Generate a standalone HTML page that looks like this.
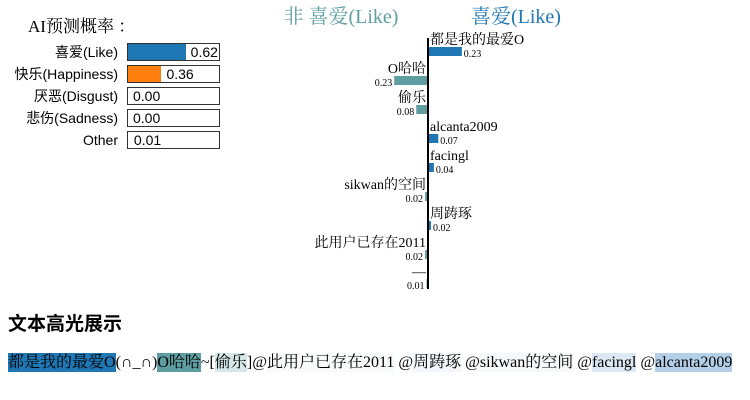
<!DOCTYPE html>
<html><head><meta charset="utf-8"><style>
body{margin:0;width:750px;height:400px;background:#fff;position:relative;overflow:hidden;font-family:"Liberation Serif","Noto Serif CJK SC",serif}
.a{position:absolute;white-space:nowrap}
.sans{font-family:"Liberation Sans","Noto Sans CJK SC",sans-serif}
.hl span{padding:1px 0}
</style></head><body>
<div class="a" style="left:28px;top:12px;font-size:17px">AI预测概率 ：</div>
<div id="probs"></div>
<svg id="chart" width="750" height="300" style="position:absolute;left:0;top:0"></svg>
<div class="a sans" style="left:8px;top:309px;font-size:19px;font-weight:bold">文本高光展示</div>
<div class="a hl" style="left:8px;top:353px;font-size:16px;line-height:20px"><span style="background:#1f77b4">都是我的最爱O</span>(∩_∩)<span style="background:#5f9ea0">O哈哈</span>~[<span style="background:#d6e7e7">偷乐</span>]@<span style="background:#f9fbfb">此用户已存在2011</span> @<span style="background:#f3f7fb">周踌琢</span> @<span style="background:#f5f9f9">sikwan的空间</span> @<span style="background:#dce9f4">facingl</span> @<span style="background:#b3d0e8">alcanta2009</span></div>
<script>
const probLabels=["喜爱(Like)","快乐(Happiness)","厌恶(Disgust)","悲伤(Sadness)","Other"];
const probValues=[0.62,0.36,0.00,0.00,0.01];
const probColors=["#1f77b4","#ff7f0e","#d62728","#2ca02c","#ffffff"];
const P=document.getElementById('probs');
probLabels.forEach((l,i)=>{
 const y=43+i*22;
 const lab=document.createElement('div');lab.className='a sans';
 
 
 lab.style.cssText=`right:${750-118}px;top:${y}px;font-size:14px;line-height:18px`;lab.textContent=l;P.appendChild(lab);
 const box=document.createElement('div');box.className='a';
 
 
 box.style.cssText=`left:127px;top:${y}px;width:91px;height:16px;border:1px solid #333`;
 const f=document.createElement('div');
 
 
 f.style.cssText=`position:absolute;left:0;top:0;height:16px;width:${probValues[i]*93}px;background:${probColors[i]}`;box.appendChild(f);
 const t=document.createElement('div');t.className='a sans';
 
 
 const w=probValues[i]*93;
 t.style.cssText=`top:0;font-size:14px;line-height:16px;`+(w>60?`right:2px`:`left:${w+5}px`);t.textContent=probValues[i].toFixed(2);box.appendChild(t);
 P.appendChild(box);
});
const words=["都是我的最爱O","O哈哈","偷乐","alcanta2009","facingl","sikwan的空间","周踌琢","此用户已存在2011","—"];
const scores=[0.23,-0.23,-0.08,0.07,0.04,-0.02,0.02,-0.02,-0.01];
const S=document.getElementById('chart'),NS='http://www.w3.org/2000/svg';
const x0=428,k=147,rowY=i=>47+i*29;
function el(n,a,txt){const e=document.createElementNS(NS,n);for(const q in a)e.setAttribute(q,a[q]);if(txt!=null)e.textContent=txt;S.appendChild(e);return e;}
let t=el('text',{x:341,y:23,'text-anchor':'middle','font-size':20,fill:'#5f9ea0'},'非 喜爱(Like)');


t=el('text',{x:516,y:23,'text-anchor':'middle','font-size':20,fill:'#1f77b4'},'喜爱(Like)');


words.forEach((w,i)=>{
 const s=scores[i],y=rowY(i),pos=s>=0,len=Math.abs(s)*k;
 const r=el('rect',{x:pos?x0:x0-len,y:y,width:len,height:9,fill:pos?'#1f77b4':'#5f9ea0'});
 
 
 const l=el('text',{x:pos?x0+2:x0-2,y:y-3,'text-anchor':pos?'start':'end','font-size':14},w);
 
 
 const v=el('text',{x:pos?x0+len+2:x0-len-2,y:y+10,'text-anchor':pos?'start':'end','font-size':10},Math.abs(s).toFixed(2));
 
 
});
const ax=el('line',{x1:x0,y1:38,x2:x0,y2:289,stroke:'#000','stroke-width':2});


</script>
</body></html>
